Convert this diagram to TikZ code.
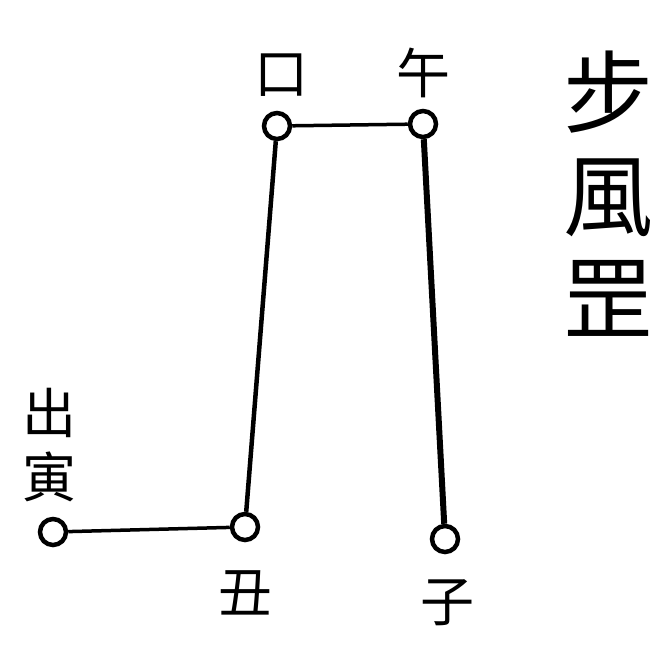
\documentclass[tikz,border=0pt]{standalone}
\usepackage{fontspec}
\newfontfamily\cjk{Noto Sans CJK TC}
\begin{document}
\begin{tikzpicture}[x=1pt,y=-1pt,
  pt/.style={circle,draw,line width=4.5pt,fill=white,minimum size=26pt,inner sep=0pt},
  lbl/.style={font=\cjk\fontsize{54}{64}\selectfont,inner sep=0pt,align=center},
  ttl/.style={font=\cjk\fontsize{90}{103}\selectfont,inner sep=0pt,align=center},
  edge/.style={line width=3.5pt}]
\useasboundingbox (0,0) rectangle (657,664);
\node[pt] (yin) at (53,532) {};
\node[pt] (chou) at (245,527) {};
\node[pt] (si) at (277,126) {};
\node[pt] (wu) at (423,124) {};
\node[pt] (zi) at (445,539) {};
\draw[edge] (yin) -- (chou);
\draw[edge,line width=4.5pt] (chou) -- (si);
\draw[edge,line width=3.5pt] (si) -- (wu);
\draw[edge,line width=6pt] (wu) -- (zi);
\node[lbl] (lsi) at (281,75) {口};
\node[lbl] (lwu) at (423,73) {午};
\node[lbl] (lyin) at (50,445) {出\\寅};
\node[lbl] (lchou) at (245,593) {丑};
\node[lbl] (lzi) at (447,603) {子};
\node[ttl] (title) at (608,194) {步\\風\\罡};
\end{tikzpicture}
\end{document}
